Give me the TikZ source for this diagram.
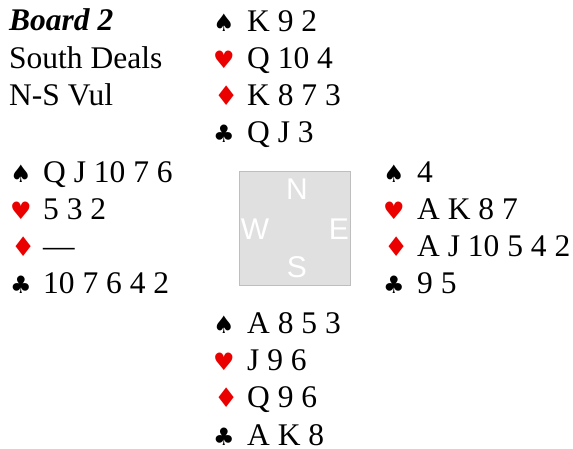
\documentclass[tikz,border=0pt]{standalone}
\usepackage{fontspec}
\setmainfont{Liberation Serif}
\newfontfamily\suitfont{DejaVu Sans}
\newfontfamily\compassfont{Liberation Sans}
\definecolor{suitred}{RGB}{235,0,0}
\definecolor{boxfill}{RGB}{224,224,224}
\definecolor{boxline}{RGB}{190,190,190}
\begin{document}
\begin{tikzpicture}[x=1pt,y=-1pt,
  cards/.style={anchor=base west,inner sep=0pt,font=\fontsize{31.5}{31.5}\selectfont},
  suit/.style={anchor=base west,inner sep=0pt,font=\suitfont\fontsize{24}{24}\selectfont},
  redsuit/.style={suit,text=suitred},
  diam/.style={redsuit,font=\suitfont\fontsize{27}{27}\selectfont,xshift=1pt},
  compass/.style={inner sep=0pt,text=white,font=\compassfont\fontsize{30}{30}\selectfont},
  table/.style={draw=boxline,fill=boxfill,line width=1pt}]
\useasboundingbox (0,0) rectangle (573,448);
% header
\node[cards,font=\fontsize{31.5}{31.5}\selectfont\bfseries\itshape] (title) at (9,30) {Board 2};
\node[cards] (dealer) at (9,68) {South Deals};
\node[cards] (vul) at (9,105) {N-S Vul};
% table
\draw[table] (239,171) rectangle (350,285);
\node[compass] (cN) at (297,189) {N};
\node[compass] (cW) at (255,229) {W};
\node[compass] (cE) at (339,229) {E};
\node[compass] (cS) at (297,267) {S};
% North
\node[suit] (ns) at (213,31) {♠};   \node[cards] (nst) at (247,31) {K 9 2};
\node[redsuit] (nh) at (213,68) {♥}; \node[cards] (nht) at (247,68) {Q 10 4};
\node[diam] (nd) at (213,105) {♦};\node[cards] (ndt) at (247,105) {K 8 7 3};
\node[suit] (nc) at (213,142) {♣};  \node[cards] (nct) at (247,142) {Q J 3};
% West
\node[suit] (ws) at (10,182) {♠};   \node[cards] (wst) at (43,182) {Q J 10 7 6};
\node[redsuit] (wh) at (10,219) {♥}; \node[cards] (wht) at (43,219) {5 3 2};
\node[diam] (wd) at (10,256) {♦};\node[cards] (wdt) at (43,256) {—};
\node[suit] (wc) at (10,293) {♣};  \node[cards] (wct) at (43,293) {10 7 6 4 2};
% East
\node[suit] (es) at (383,182) {♠};   \node[cards] (est) at (417,182) {4};
\node[redsuit] (eh) at (383,219) {♥}; \node[cards] (eht) at (417,219) {A K 8 7};
\node[diam] (ed) at (383,256) {♦};\node[cards] (edt) at (417,256) {A J 10 5 4 2};
\node[suit] (ec) at (383,293) {♣};  \node[cards] (ect) at (417,293) {9 5};
% South
\node[suit] (ss) at (213,333) {♠};   \node[cards] (sst) at (247,333) {A 8 5 3};
\node[redsuit] (sh) at (213,370) {♥}; \node[cards] (sht) at (247,370) {J 9 6};
\node[diam] (sd) at (213,407) {♦};\node[cards] (sdt) at (247,407) {Q 9 6};
\node[suit] (sc) at (213,445) {♣};  \node[cards] (sct) at (247,445) {A K 8};
\end{tikzpicture}
\end{document}
